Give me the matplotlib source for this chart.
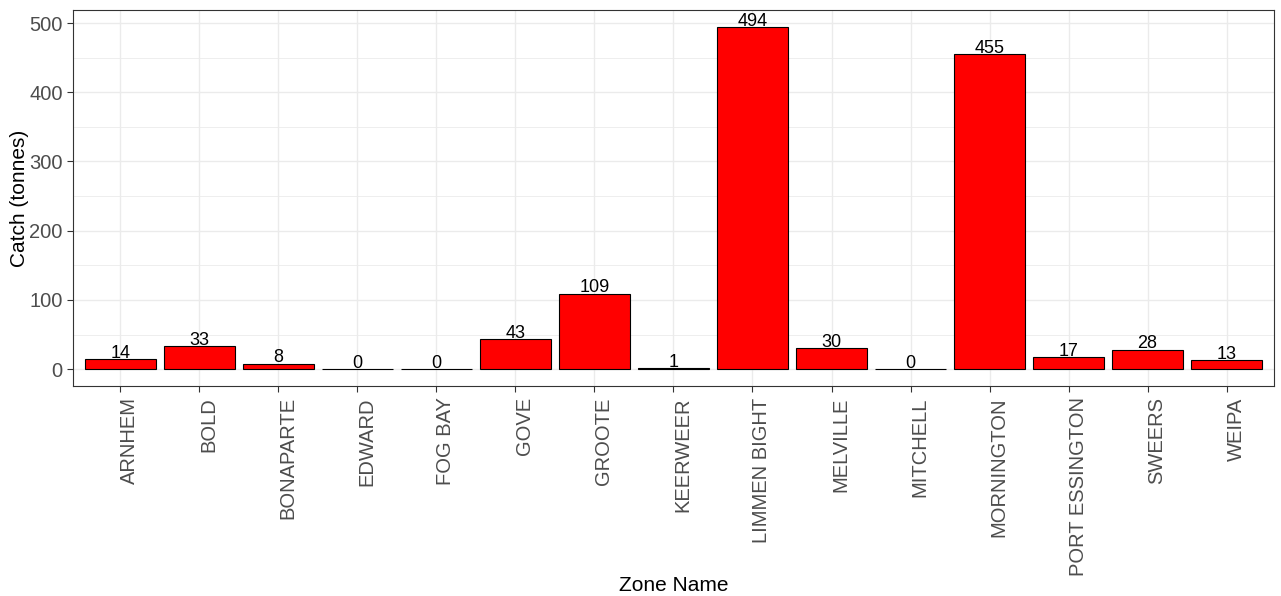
import matplotlib
matplotlib.use('Agg')
import matplotlib.pyplot as plt
import matplotlib.transforms as mtransforms
from matplotlib.ticker import MultipleLocator

zones = ['ARNHEM', 'BOLD', 'BONAPARTE', 'EDWARD', 'FOG BAY', 'GOVE', 'GROOTE',
         'KEERWEER', 'LIMMEN BIGHT', 'MELVILLE', 'MITCHELL', 'MORNINGTON',
         'PORT ESSINGTON', 'SWEERS', 'WEIPA']
catch = [14, 33, 8, 0, 0, 43, 109, 1, 494, 30, 0, 455, 17, 28, 13]

plt.rcParams['font.family'] = ['Liberation Sans', 'DejaVu Sans']

fig = plt.figure(figsize=(12.81, 5.96), dpi=100)
ax = fig.add_axes([0.057, 0.352, 0.9375, 0.631])

x = list(range(len(zones)))
ax.bar(x, catch, width=0.9, color='#FF0000', edgecolor='black', linewidth=0.8, zorder=3)

for xi, v in zip(x, catch):  # value labels just above each bar
    ax.annotate(str(v), (xi, v), xytext=(0, 1.0), textcoords='offset points',
                ha='center', va='baseline', fontsize=13, color='black', zorder=4)

ax.set_xlim(-0.6, len(zones) - 0.4)
ax.set_ylim(-max(catch) * 0.05, max(catch) * 1.05)

ax.yaxis.set_major_locator(MultipleLocator(100))
ax.yaxis.set_minor_locator(MultipleLocator(50))
ax.set_xticks(x)
ax.set_xticklabels(zones, rotation=90, ha='left', va='top')
shift = mtransforms.ScaledTranslation(2 / 100, 0, fig.dpi_scale_trans)
for lbl in ax.get_xticklabels():  # ggplot puts the rotated labels a bit right of the tick
    lbl.set_transform(lbl.get_transform() + shift)

ax.grid(which='major', color='#EBEBEB', linewidth=1.0, zorder=0)
ax.grid(which='minor', axis='y', color='#EBEBEB', linewidth=0.6, zorder=0)
ax.set_axisbelow(True)

ax.tick_params(axis='both', which='major', length=4, width=0.8, color='#333333',
               labelcolor='#4D4D4D', labelsize=14.5)
ax.tick_params(axis='x', pad=4)
ax.tick_params(which='minor', length=0)

for s in ax.spines.values():
    s.set_color('#333333')
    s.set_linewidth(0.8)

ax.set_ylabel('Catch (tonnes)', fontsize=15, color='black')
ylab_tr = mtransforms.blended_transform_factory(fig.transFigure, ax.transAxes)
ax.yaxis.set_label_coords(29 / 1281, 0.5, transform=ylab_tr)
ax.set_xlabel('Zone Name', fontsize=15, color='black')
label_tr = mtransforms.blended_transform_factory(ax.transAxes, fig.transFigure)
ax.xaxis.set_label_coords(0.5, 1 - 576 / 596, transform=label_tr)

fig.savefig('out.png', dpi=100)
